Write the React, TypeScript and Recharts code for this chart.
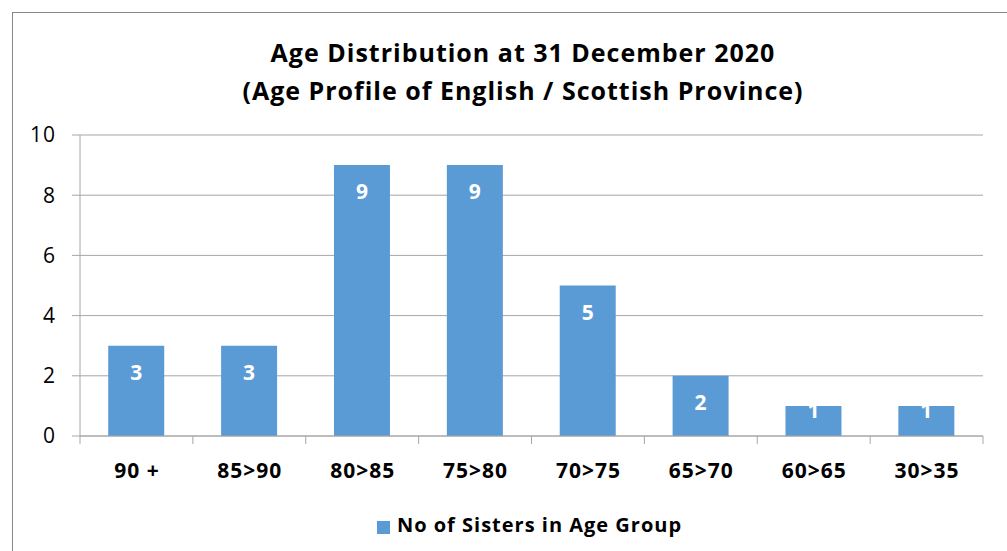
import React from 'react';
import { BarChart, Bar, XAxis, YAxis, CartesianGrid, Legend, LabelList } from 'recharts';

const AGE_GROUPS = ['90 +', '85>90', '80>85', '75>80', '70>75', '65>70', '60>65', '30>35'];
const SISTERS = [3, 3, 9, 9, 5, 2, 1, 1];
const Y_TICKS = [0, 2, 4, 6, 8, 10];
const SERIES_NAME = 'No of Sisters in Age Group';

const data = AGE_GROUPS.map((name, i) => ({ name, value: SISTERS[i] }));

const FONT = '"Open Sans", Lato, sans-serif';
const BAR_COLOR = '#5B9BD5';
const AXIS_COLOR = '#A6A6A6';

const W = 1007;
const H = 551;
const MARGIN = { top: 135, right: 24, bottom: 58, left: 0 };
const Y_AXIS_W = 80;
const BAND = (W - MARGIN.left - MARGIN.right - Y_AXIS_W) / AGE_GROUPS.length;

const XTick = (props: any) => {
    const { x, y, payload, index } = props;
    const half = BAND / 2;
    return (
        <g>
            <line x1={x - half} x2={x - half} y1={y - 8} y2={y} stroke={AXIS_COLOR} />
            {index === AGE_GROUPS.length - 1 && (
                <line x1={x + half} x2={x + half} y1={y - 8} y2={y} stroke={AXIS_COLOR} />
            )}
            <text x={x + 0.5} y={y + 26} textAnchor="middle" dominantBaseline="central"
                fontFamily={FONT} fontWeight={700} fontSize={21} letterSpacing={1} fill="#000">
                {payload.value}
            </text>
        </g>
    );
};

// Excel-style inside-end labels; short bars push the label up past the bar top
const BarValue = (props: any) => {
    const { x, y, width, height, value } = props;
    const cy = height >= 50 ? y + 26 : y + 4;
    return (
        <text x={x + width / 2} y={cy} textAnchor="middle" dominantBaseline="central"
            fontFamily={FONT} fontWeight={700} fontSize={21} fill="#fff">
            {value}
        </text>
    );
};

export default function App() {
    return (
        <div style={{ position: 'absolute', left: 0, top: 0, width: W, height: H, overflow: 'hidden', background: '#fff' }}>
            <div style={{ position: 'absolute', left: 12, top: 12, width: W, height: H, border: '1px solid #888', boxSizing: 'border-box' }} />
            <div style={{ position: 'absolute', left: 0, top: 33, width: 1046, textAlign: 'center', fontFamily: FONT, fontWeight: 700, fontSize: 25, letterSpacing: 1, lineHeight: '38px', color: '#000' }}>
                Age Distribution at 31 December 2020<br />
                (Age Profile of English / Scottish Province)
            </div>
            <div style={{ position: 'absolute', left: 0, top: 0 }}>
                <BarChart width={W} height={H} data={data} margin={MARGIN} barCategoryGap="25%">
                    <CartesianGrid vertical={false} stroke={AXIS_COLOR} />
                    <XAxis dataKey="name" stroke={AXIS_COLOR} tickLine={false} tick={<XTick />} interval={0} />
                    <YAxis
                        width={Y_AXIS_W}
                        domain={[0, 10]}
                        ticks={Y_TICKS}
                        stroke={AXIS_COLOR}
                        tickSize={8}
                        tickMargin={16}
                        tick={{ fontFamily: FONT, fontSize: 21, letterSpacing: 1, fill: '#000' }}
                    />
                    <Legend
                        verticalAlign="bottom"
                        iconType="square"
                        iconSize={13}
                        wrapperStyle={{ bottom: 13, left: 43, fontFamily: FONT }}
                        formatter={(v: string) => (
                            <span style={{ color: '#000', fontWeight: 700, fontSize: 20, letterSpacing: 1, marginLeft: 3 }}>{v}</span>
                        )}
                    />
                    <Bar dataKey="value" name={SERIES_NAME} fill={BAR_COLOR} isAnimationActive={false}>
                        <LabelList dataKey="value" content={<BarValue />} />
                    </Bar>
                </BarChart>
            </div>
        </div>
    );
}
